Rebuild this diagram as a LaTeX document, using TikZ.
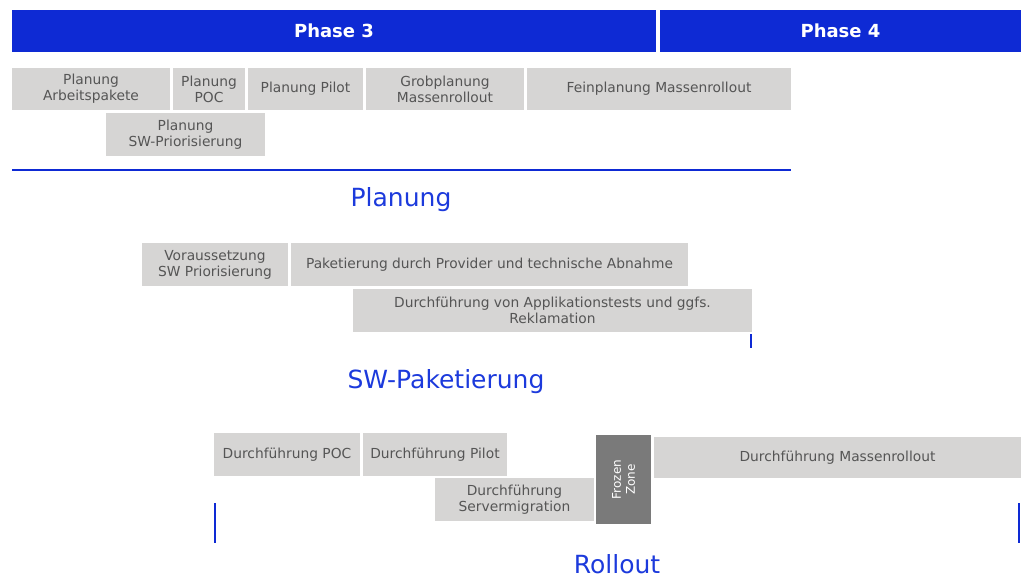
\documentclass[tikz,border=0pt]{standalone}
\usepackage{fontspec}
\setmainfont{DejaVu Sans}
\definecolor{phaseblue}{RGB}{14,42,212}
\definecolor{headblue}{RGB}{28,58,220}
\definecolor{boxgray}{RGB}{214,213,212}
\definecolor{frozengray}{RGB}{122,122,122}
\definecolor{boxtext}{RGB}{85,85,85}
\tikzset{
  phase/.style={fill=phaseblue, text=white, font=\fontsize{18}{20}\selectfont\bfseries, anchor=north west, inner sep=0pt, outer sep=0pt},
  task/.style={fill=boxgray, text=boxtext, font=\fontsize{13.8}{16}\selectfont, align=center, anchor=north west, inner sep=0pt, outer sep=0pt},
  frozen/.style={fill=frozengray, anchor=north west, inner sep=0pt, outer sep=0pt},
  heading/.style={text=headblue, font=\fontsize{25}{28}\selectfont, inner sep=0pt},
  bluerule/.style={draw=phaseblue, line width=2pt}
}
\begin{document}
\begin{tikzpicture}[x=1pt,y=-1pt]
\useasboundingbox (0,0) rectangle (1025,578);
% phases
\node[phase, minimum width=644pt, minimum height=42pt] (ph3) at (12,10) {Phase 3};
\node[phase, minimum width=361pt, minimum height=42pt] (ph4) at (660,10) {Phase 4};
% Planung
\node[task, minimum width=158pt, minimum height=42pt] (pa) at (12,68) {Planung\\Arbeitspakete};
\node[task, minimum width=72pt, minimum height=42pt] (ppoc) at (173,68) {Planung\\POC};
\node[task, minimum width=115pt, minimum height=42pt] (ppil) at (248,68) {Planung Pilot};
\node[task, minimum width=158pt, minimum height=42pt] (grob) at (366,68) {Grobplanung\\Massenrollout};
\node[task, minimum width=264pt, minimum height=42pt] (fein) at (527,68) {Feinplanung Massenrollout};
\node[task, minimum width=159pt, minimum height=43pt] (psw) at (106,113) {Planung\\SW-Priorisierung};
\coordinate (pl1) at (12,170);
\coordinate (pl2) at (791,170);
\draw[bluerule] (pl1) -- (pl2);
\node[heading] (hplan) at (401,200) {Planung};
% SW-Paketierung
\node[task, minimum width=146pt, minimum height=43pt] (vor) at (142,243) {Voraussetzung\\SW Priorisierung};
\node[task, minimum width=397pt, minimum height=43pt] (pak) at (291,243) {Paketierung durch Provider und technische Abnahme};
\node[task, minimum width=399pt, minimum height=43pt] (dur) at (353,289) {Durchführung von Applikationstests und ggfs.\\Reklamation};
\coordinate (sw1) at (751,334);
\coordinate (sw2) at (751,348);
\draw[bluerule] (sw1) -- (sw2);
\node[heading] (hsw) at (446,382) {SW-Paketierung};
% Rollout
\node[task, minimum width=146pt, minimum height=43pt] (dpoc) at (214,433) {Durchführung POC};
\node[task, minimum width=144pt, minimum height=43pt] (dpil) at (363,433) {Durchführung Pilot};
\node[task, minimum width=159pt, minimum height=43pt] (dsrv) at (435,478) {Durchführung\\Servermigration};
\node[frozen, minimum width=55pt, minimum height=89pt] (fz) at (596,435) {};
\node[text=white, font=\fontsize{12}{14}\selectfont, align=center, rotate=90, inner sep=0pt] (fzt) at (fz.center) {Frozen\\Zone};
\node[task, minimum width=367pt, minimum height=41pt] (dmass) at (654,437) {Durchführung Massenrollout};
\coordinate (r1a) at (215,503);
\coordinate (r1b) at (215,543);
\coordinate (r2a) at (1019,503);
\coordinate (r2b) at (1019,543);
\draw[bluerule] (r1a) -- (r1b);
\draw[bluerule] (r2a) -- (r2b);
\node[heading] (hroll) at (617,564) {Rollout};
\end{tikzpicture}
\end{document}
